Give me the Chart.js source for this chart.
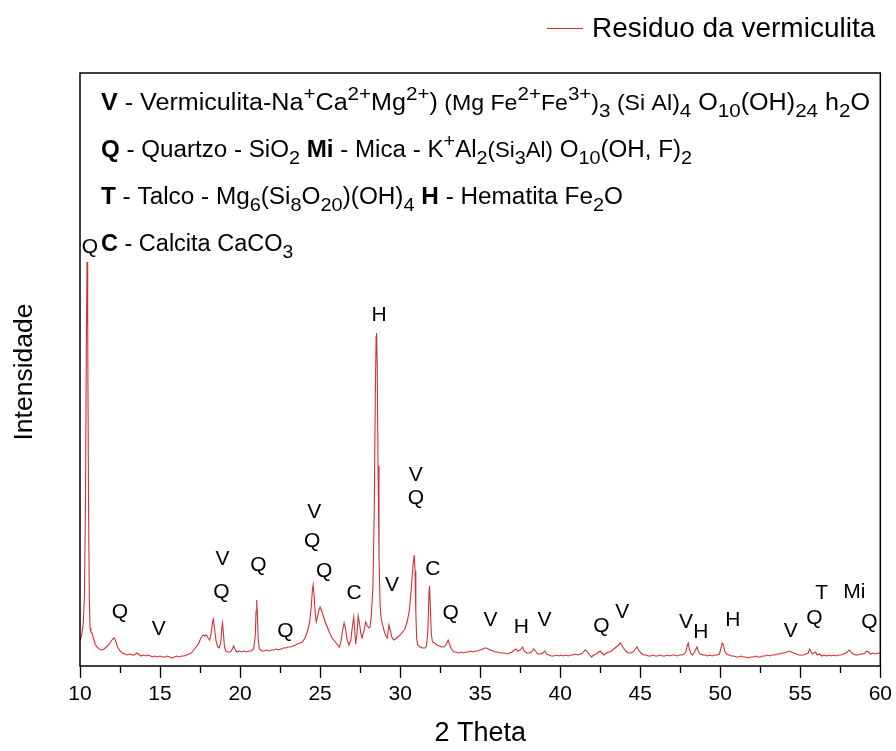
<!DOCTYPE html>
<html><head><meta charset="utf-8">
<script src="https://cdn.jsdelivr.net/npm/chart.js@4.4.0/dist/chart.umd.min.js"></script>
<style>html,body{margin:0;padding:0;background:#fff}#wrap{width:896px;height:751px}</style>
</head><body><div id="wrap"><canvas id="c" width="896" height="751"></canvas></div>
<script>
const seriesName = 'Residuo da vermiculita';
const xTitle = '2 Theta';
const yTitle = 'Intensidade';
const xTickValues = [10,15,20,25,30,35,40,45,50,55,60];
const minorTicks = [12.5,17.5,22.5,27.5,32.5,37.5,42.5,47.5,52.5,57.5];

const twoTheta = [
 10.00,10.10,10.20,10.28,10.34,10.40,10.44,10.48,10.53,10.58,10.63,10.68,10.75,10.85,10.95,11.05,11.20,11.35,11.50,11.65,11.80,11.95,12.05,12.15,12.25,12.35,12.50,12.65,12.80,12.95,
 13.10,13.25,13.40,13.55,13.65,13.80,13.95,14.10,14.25,14.40,14.55,14.70,14.85,15.00,15.15,15.30,15.45,15.60,15.75,15.90,16.05,16.20,16.35,16.50,16.65,16.80,16.95,
 17.10,17.25,17.40,17.55,17.70,17.80,17.90,18.00,18.10,18.20,18.28,18.33,18.40,18.50,18.60,18.70,18.80,18.86,18.90,18.95,19.02,19.10,19.25,19.40,19.52,19.60,19.68,19.80,19.95,20.10,20.25,20.40,20.55,20.70,20.85,
 20.95,21.00,21.04,21.08,21.13,21.20,21.35,21.50,21.65,21.80,21.95,22.10,22.25,22.40,22.55,22.70,22.85,23.00,23.15,23.30,23.45,23.60,23.75,23.90,24.05,24.20,24.35,24.45,24.52,24.57,24.63,24.70,24.76,24.85,24.93,25.00,25.08,25.20,25.32,25.45,25.60,25.75,25.90,26.00,26.10,26.20,
 26.30,26.40,26.50,26.58,26.68,26.80,26.92,27.02,27.10,27.16,27.22,27.30,27.38,27.45,27.55,27.62,27.72,27.85,27.95,28.05,28.12,28.20,28.30,28.38,28.45,28.50,28.53,28.57,28.62,28.68,28.75,28.82,28.92,29.02,29.12,29.20,
 29.30,29.38,29.48,29.60,29.72,29.85,30.00,30.15,30.30,30.45,30.58,30.70,30.80,30.88,30.93,30.98,31.03,31.10,31.25,31.40,31.55,31.65,31.73,31.80,31.84,31.88,31.95,32.02,32.15,32.30,32.45,32.60,32.75,32.90,33.00,33.08,33.20,
 33.35,33.50,33.65,33.80,33.95,34.10,34.25,34.40,34.55,34.70,34.85,35.00,35.15,35.30,35.40,35.50,35.65,35.80,35.95,36.10,36.25,36.40,36.55,36.70,36.85,37.00,37.15,37.25,37.35,37.50,37.65,37.75,37.90,38.05,38.20,38.35,38.45,38.60,38.75,38.90,39.05,39.15,39.30,39.45,39.60,39.75,39.90,
 40.05,40.20,40.35,40.50,40.65,40.80,40.95,41.10,41.25,41.40,41.55,41.65,41.80,41.95,42.10,42.25,42.40,42.50,42.60,42.75,42.90,43.05,43.20,43.35,43.50,43.65,43.75,43.85,43.95,44.10,44.25,44.40,44.55,44.70,44.80,44.90,45.05,45.20,45.35,45.50,45.65,45.80,45.95,46.10,46.25,46.40,46.55,46.70,46.85,47.00,47.15,47.30,47.45,47.60,47.75,
 47.85,47.95,48.00,48.07,48.15,48.25,48.35,48.45,48.55,48.62,48.75,48.90,49.05,49.20,49.35,49.50,49.65,49.80,49.95,50.05,50.12,50.20,50.28,50.40,50.55,50.70,50.85,51.00,51.15,51.30,51.45,51.60,51.75,51.90,52.05,52.20,52.35,52.50,52.65,52.80,52.95,53.10,53.25,53.40,53.55,53.70,53.85,
 54.00,54.15,54.30,54.45,54.60,54.75,54.90,55.05,55.20,55.35,55.50,55.58,55.65,55.75,55.85,55.95,56.05,56.20,56.35,56.50,56.65,56.80,56.95,57.10,57.25,57.40,57.55,57.70,57.85,58.00,58.07,58.15,58.30,58.45,58.60,58.75,58.90,59.05,59.15,59.25,59.40,59.55,59.70,59.85,60.00
];
const intensity = [
 26,30,42,70,160,330,404,340,170,70,38,34,33,27,22,19,17,16,17,19,21,25,27,28,24,19,15,13,12,11,
 12,11,11,13,12,10,11,10,11,10,9,10,9,10,9,9,10,9,8,9,10,9,10,10,11,12,13,
 16,19,22,28,31,30,31,28,26,33,44,47,38,25,19,18,24,38,43,35,20,15,14,14,17,20,17,14,15,14,15,14,15,15,17,
 30,55,66,52,28,17,15,15,16,15,16,16,17,16,17,18,18,19,19,20,21,22,23,24,28,34,44,60,76,81,70,52,44,50,56,59,56,50,44,39,33,28,25,23,21,19,
 24,35,43,38,27,21,26,40,49,36,22,32,50,44,32,28,34,44,40,38,39,50,80,150,270,330,333,300,200,110,60,47,40,34,30,28,
 41,36,29,26,27,29,31,34,37,45,56,78,100,111,95,55,28,21,19,18,18,20,35,72,80,62,32,24,23,21,20,19,19,22,26,22,17,
 14,14,13,14,13,14,14,15,14,15,15,16,17,18,18,17,16,15,14,14,13,13,13,12,13,14,16,17,15,16,19,15,13,13,14,17,15,12,12,13,15,12,11,10,10,11,10,
 11,10,11,10,11,11,12,11,12,13,16,15,12,9,11,12,14,15,13,11,13,14,15,17,19,21,23,21,18,15,13,13,14,17,19,16,13,11,11,10,10,11,10,10,11,10,10,11,10,11,11,10,11,11,12,
 14,21,23,17,13,11,13,16,19,15,12,11,11,10,11,10,11,11,12,18,23,21,15,12,11,10,10,9,9,10,9,9,8,9,9,10,9,9,10,10,11,10,11,11,12,12,13,
 13,14,15,14,13,12,11,11,11,12,13,17,15,12,13,14,11,12,10,11,10,11,10,11,10,11,11,12,13,15,16,14,12,11,11,12,12,13,15,14,12,13,12,13,13
];

const peakLabels = ['Q','H','V','Q','V','Q','Q','V','Q','Q','C','V','C','Q','V','Q','Q','V','H','V','Q','V','V','H','H','V','Q','T','Mi','Q'];
const peakLabelTheta = [10.62,28.68,30.98,30.98,24.63,24.51,25.26,18.90,18.84,21.15,27.12,29.49,32.04,12.49,14.92,22.83,33.16,35.65,37.58,39.02,42.57,43.87,47.86,48.79,50.78,54.40,55.89,56.33,58.38,59.32];
const peakLabelIntensity = [419,351,191,168,154,125,95,107,74,101,73,81,97,54,37,35,53,46,39,46,40,54,44,34,46,35,48,73,74,44];

const phaseKey = [
 [['V','b'],[' - Vermiculita-Na','n'],['+','sup'],['Ca','n'],['2+','sup'],['Mg','n'],['2+','sup'],[')','n'],[' (Mg Fe','s'],['2+','sup'],['Fe','s'],['3+','sup'],[')','s'],['3','sub'],[' (Si Al)','s'],['4','sub'],[' O','n'],['10','sub'],['(OH)','n'],['24','sub'],[' h','n'],['2','sub'],['O','n']],
 [['Q','b'],[' - Quartzo - SiO','n'],['2','sub'],[' ','n'],['Mi','b'],[' - Mica - K','n'],['+','sup'],['Al','n'],['2','sub'],['(Si','s'],['3','sub'],['Al)','s'],[' O','n'],['10','sub'],['(OH, F)','n'],['2','sub']],
 [['T','b'],[' - Talco - Mg','n'],['6','sub'],['(Si','n'],['8','sub'],['O','n'],['20','sub'],[')(OH)','n'],['4','sub'],[' ','n'],['H','b'],[' - Hematita Fe','n'],['2','sub'],['O','n']],
 [['C','b'],[' - Calcita CaCO','n'],['3','sub']]
];

const FONT = "'Liberation Sans', Arial, Helvetica, sans-serif";
const LINE_COLOR = '#d42f37';

function segFont(st, base) {
  let size = base, dy = 0, weight = 'normal';
  if (st === 'b') weight = 'bold';
  if (st === 's') size = base * 0.92;
  if (st === 'sup') { size = base * 0.82; dy = -base * 0.42; }
  if (st === 'sub') { size = base * 0.82; dy = base * 0.3; }
  return { font: `${weight} ${size}px ${FONT}`, dy };
}

function drawRich(ctx, x0, y, segs, base, right) {
  ctx.textAlign = 'left';
  ctx.textBaseline = 'alphabetic';
  let w = 0;
  for (const [t, st] of segs) { ctx.font = segFont(st, base).font; w += ctx.measureText(t).width; }
  const sx = Math.max(1, (right - x0) / w);
  ctx.save();
  ctx.translate(x0, y);
  ctx.scale(sx, 1);
  let x = 0;
  for (const [t, st] of segs) {
    const f = segFont(st, base);
    ctx.font = f.font;
    ctx.fillText(t, x, f.dy);
    x += ctx.measureText(t).width;
  }
  ctx.restore();
}

const overlay = {
  id: 'overlay',
  afterDraw(chart) {
    const { ctx, chartArea: a, scales: { x, y } } = chart;
    ctx.save();
    ctx.strokeStyle = '#000';
    ctx.lineWidth = 1.5;
    ctx.strokeRect(a.left, a.top, a.right - a.left, a.bottom - a.top);
    ctx.lineWidth = 1.3;
    for (const v of minorTicks) {
      const px = Math.round(x.getPixelForValue(v)) + 0.5;
      ctx.beginPath(); ctx.moveTo(px, a.bottom); ctx.lineTo(px, a.bottom + 7); ctx.stroke();
    }
    // peak labels
    ctx.fillStyle = '#000';
    ctx.font = `21px ${FONT}`;
    ctx.textAlign = 'center';
    ctx.textBaseline = 'middle';
    peakLabels.forEach((t, i) => {
      ctx.fillText(t, x.getPixelForValue(peakLabelTheta[i]), y.getPixelForValue(peakLabelIntensity[i]));
    });
    // phase key
    const baselines = [110, 157, 204, 251];
    const rights = [870, 692, 623, 293];
    phaseKey.forEach((segs, i) => drawRich(ctx, a.left + 21, baselines[i], segs, 23.5, rights[i]));
    // y title
    ctx.save();
    ctx.translate(25, 372);
    ctx.rotate(-Math.PI / 2);
    ctx.font = `26.5px ${FONT}`;
    ctx.textAlign = 'center';
    ctx.textBaseline = 'middle';
    ctx.fillText(yTitle, 0, 0);
    ctx.restore();
    // legend
    ctx.strokeStyle = LINE_COLOR;
    ctx.lineWidth = 1;
    ctx.beginPath(); ctx.moveTo(547, 28.5); ctx.lineTo(583, 28.5); ctx.stroke();
    ctx.font = `28px ${FONT}`;
    ctx.textAlign = 'left';
    ctx.textBaseline = 'middle';
    ctx.fillStyle = '#000';
    ctx.fillText(chart.data.datasets[0].label, 592, 29);
    ctx.restore();
  }
};

new Chart(document.getElementById('c'), {
  type: 'line',
  data: {
    datasets: [{
      label: seriesName,
      data: twoTheta.map((t, i) => ({ x: t, y: intensity[i] })),
      borderColor: LINE_COLOR,
      borderWidth: 1.1,
      pointRadius: 0,
      tension: 0,
      fill: false
    }]
  },
  options: {
    responsive: false,
    animation: false,
    devicePixelRatio: 1,
    layout: { padding: { left: 80, right: 13, top: 73, bottom: 0 } },
    plugins: { legend: { display: false }, tooltip: { enabled: false } },
    scales: {
      x: {
        type: 'linear', min: 10, max: 60,
        afterFit(scale) { scale.height = 85; },
        afterBuildTicks(scale) { scale.ticks = xTickValues.map(v => ({ value: v })); },
        ticks: { stepSize: 5, autoSkip: false, maxRotation: 0, padding: 4, color: '#000', font: { family: FONT, size: 21 } },
        grid: { drawOnChartArea: false, drawTicks: true, tickLength: 12, tickColor: '#000', tickWidth: 1.3 },
        border: { display: false },
        title: { display: true, text: xTitle, color: '#000', font: { family: FONT, size: 27 }, padding: { top: 0, bottom: 1 } }
      },
      y: { display: false, min: 0, max: 593 }
    }
  },
  plugins: [overlay]
});
</script>
</body></html>
